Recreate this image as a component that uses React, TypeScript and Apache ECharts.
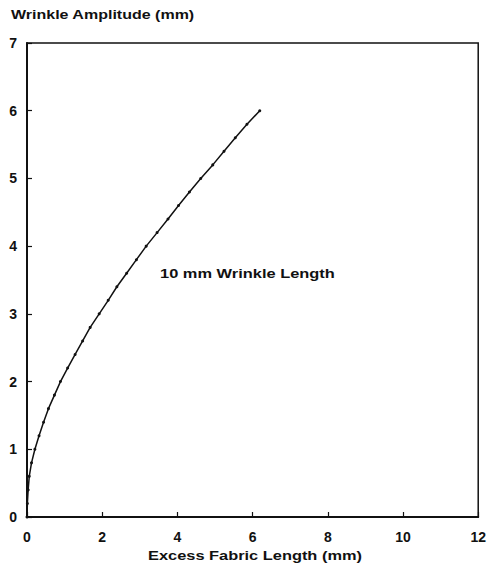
import React, { useEffect, useRef } from "react";
import * as echarts from "echarts";

const amplitude = [0, 0.2, 0.4, 0.6, 0.8, 1.0, 1.2, 1.4, 1.6, 1.8, 2.0, 2.2, 2.4, 2.6, 2.8, 3.0, 3.2, 3.4, 3.6, 3.8, 4.0, 4.2, 4.4, 4.6, 4.8, 5.0, 5.2, 5.4, 5.6, 5.8, 6.0];
const excessLength = [0, 0.01, 0.03, 0.06, 0.12, 0.21, 0.32, 0.44, 0.57, 0.73, 0.89, 1.08, 1.28, 1.48, 1.68, 1.92, 2.16, 2.39, 2.65, 2.91, 3.17, 3.46, 3.75, 4.03, 4.32, 4.62, 4.94, 5.24, 5.54, 5.85, 6.19];

const yTitle = "Wrinkle Amplitude (mm)";
const xTitle = "Excess Fabric Length (mm)";
const curveLabel = "10 mm Wrinkle Length";

const FONT = "'Liberation Sans', Arial, sans-serif";

function stretch(text: string, font: string, width: number): number {
  const c = document.createElement("canvas").getContext("2d");
  if (!c) return 1;
  c.font = font;
  const w = c.measureText(text).width;
  return w > 0 ? width / w : 1;
}

export default function App() {
  const ref = useRef<HTMLDivElement>(null);
  useEffect(() => {
    if (!ref.current) return;
    const chart = echarts.init(ref.current, null, { renderer: "svg" });
    const tFont = `bold 12px ${FONT}`;
    chart.setOption({
      animation: false,
      backgroundColor: "#fff",
      grid: {
        left: 27, right: 9, top: 43, bottom: 52,
        show: true, borderColor: "#111", borderWidth: 1.5,
      },
      xAxis: {
        type: "value", min: 0, max: 12, interval: 2,
        axisLine: { show: true, lineStyle: { color: "#111", width: 2 } },
        axisTick: { show: true, inside: true, length: 5, lineStyle: { color: "#111", width: 1.2 } },
        axisLabel: { color: "#111", fontSize: 14, fontFamily: FONT, fontWeight: "bold", margin: 13 },
        splitLine: { show: false },
      },
      yAxis: {
        type: "value", min: 0, max: 7, interval: 1,
        axisLine: { show: true, lineStyle: { color: "#111", width: 2 } },
        axisTick: { show: true, inside: true, length: 5, lineStyle: { color: "#111", width: 1.2 } },
        axisLabel: { color: "#111", fontSize: 14, fontFamily: FONT, fontWeight: "bold", margin: 10 },
        splitLine: { show: false },
      },
      graphic: [
        {
          type: "text", x: 11, y: 15, scaleX: stretch(yTitle, tFont, 184),
          style: { text: yTitle, font: tFont, fill: "#111", align: "left", verticalAlign: "middle" },
        },
        {
          type: "text", x: 255, y: 556, scaleX: stretch(xTitle, tFont, 214),
          style: { text: xTitle, font: tFont, fill: "#111", align: "center", verticalAlign: "middle" },
        },
        {
          type: "text", x: 160, y: 274, scaleX: stretch(curveLabel, tFont, 175),
          style: { text: curveLabel, font: tFont, fill: "#111", align: "left", verticalAlign: "middle" },
        },
      ],
      series: [
        {
          type: "line",
          data: excessLength.map((x, i) => [x, amplitude[i]]),
          showSymbol: true,
          symbol: "circle",
          symbolSize: 3,
          itemStyle: { color: "#111" },
          lineStyle: { color: "#111", width: 1.5 },
          smooth: false,
        },
      ],
    });
    return () => chart.dispose();
  }, []);
  return <div ref={ref} style={{ position: "fixed", left: 0, top: 0, width: 489, height: 569 }} />;
}
